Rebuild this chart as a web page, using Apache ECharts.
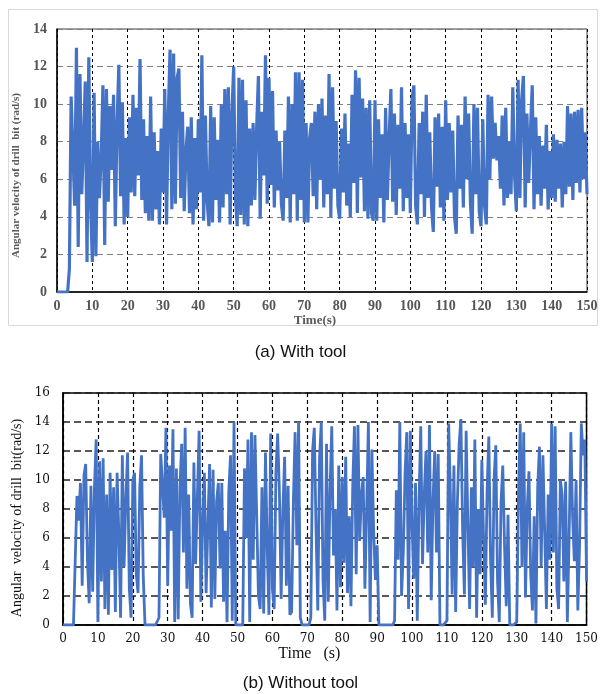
<!DOCTYPE html>
<html><head><meta charset="utf-8">
<script src="https://cdn.jsdelivr.net/npm/echarts@6/dist/echarts.min.js"></script>
<style>html,body{margin:0;padding:0;background:#fff}#c{width:601px;height:694px}</style>
</head><body><div id="c"></div>
<script>
// sample spacing of both records (s)
const timeStep = 0.5;
const xTicks = [0,10,20,30,40,50,60,70,80,90,100,110,120,130,140,150];

// (a) With tool : angular velocity of drill bit (rad/s), t = 0 .. 150 s
const withTool = [
 0,0,0,0,0,0,0,1.2,10.4,10.5,4.6,13.0,2.4,11.6,5.2,8.0,11.2,1.6,12.5,4.8,
 1.6,10.6,1.9,8.0,5.0,7.2,11.0,2.5,10.8,4.8,9.9,6.5,10.5,3.5,9.0,12.1,5.1,10.1,3.6,8.2,
 4.0,9.3,5.3,10.5,5.1,9.8,6.2,12.4,4.9,9.2,4.2,8.3,3.8,10.4,3.8,8.5,4.4,7.5,3.6,8.7,
 5.3,10.8,3.6,9.5,12.9,4.4,12.7,4.7,11.4,11.9,5.0,9.6,4.3,7.5,8.8,4.2,9.3,3.6,8.2,4.4,
 9.2,5.3,12.6,3.8,9.4,4.8,3.5,9.9,3.7,9.3,4.9,8.1,3.7,10.0,4.5,10.8,5.2,10.9,3.6,9.5,
 12.0,5.0,3.5,11.4,4.1,11.3,3.6,10.2,3.5,8.7,4.6,9.0,4.9,8.7,11.5,3.9,9.6,6.2,12.6,4.7,
 11.4,5.7,10.7,4.5,8.6,5.4,8.0,4.7,3.8,8.6,5.0,10.4,3.7,10.0,5.2,11.7,3.8,11.7,4.9,11.3,
 3.7,9.0,3.7,8.2,9.0,5.1,9.6,4.4,10.0,6.0,10.3,4.5,9.4,5.2,11.6,4.0,10.9,5.5,9.1,4.6,
 3.9,8.7,5.3,9.5,4.6,7.9,4.0,10.5,5.8,11.8,4.2,11.4,6.1,10.3,4.3,9.8,3.9,10.2,4.2,3.8,
 10.2,3.8,9.2,5.0,8.4,3.7,9.8,4.9,8.2,10.8,4.8,9.5,4.1,8.9,5.5,10.9,4.3,9.0,5.0,8.4,
 4.2,10.3,11.0,4.6,3.6,9.0,5.2,9.6,4.0,10.5,5.0,8.5,4.5,3.2,9.3,5.6,9.5,4.5,8.8,3.8,
 10.2,4.9,9.0,5.3,8.6,4.0,3.1,9.4,5.5,8.9,4.5,10.4,6.0,9.5,4.8,3.1,10.0,5.2,9.8,4.3,
 3.5,9.2,4.6,3.6,10.5,6.0,10.4,7.1,9.0,7.0,8.3,5.5,9.4,4.6,9.8,5.0,8.0,5.2,10.9,6.2,
 4.3,11.3,5.0,10.2,11.5,4.5,9.5,5.8,8.6,11.0,4.4,9.3,5.2,8.3,4.6,7.8,5.5,8.9,4.4,7.5,
 5.0,8.4,4.8,8.1,5.5,7.9,4.5,8.0,5.2,9.9,5.6,9.5,4.9,9.6,5.8,9.7,5.3,9.8,6.0,8.5,
 5.2
];

// (b) Without tool : angular velocity of drill bit (rad/s), t = 0 .. 150 s
const withoutTool = [
 0,0,0,0,0,0,0,0,8.9,7.2,9.8,2.7,10.3,11.1,4.5,1.5,9.6,2.3,9.4,12.8,
 0.2,11.3,3.0,11.5,1.1,9.0,0.7,10.5,3.8,9.5,0.9,10.5,6.3,0.5,11.7,4.0,8.7,11.9,2.5,0.5,
 10.0,10.5,3.5,2.2,9.5,11.7,3.3,0,0,0,0,0,0,0,0,0.5,11.8,9.7,7.4,13.6,
 2.7,11.0,6.5,13.5,0.2,10.8,0.4,9.5,12.5,5.0,13.6,2.5,9.0,1.5,0.5,11.2,4.2,8.8,13.4,1.6,
 7.0,10.5,2.2,6.8,11.1,1.2,10.7,1.8,8.5,9.8,3.9,9.8,1.6,6.5,0.2,9.2,11.7,0.3,14.0,0,
 0,0,0,0,10.8,6.0,12.8,0.2,13.3,4.5,13.1,7.5,2.0,1.1,9.5,0.8,11.9,5.5,0.7,13.2,
 2.5,1.1,10.5,13.2,9.2,1.8,8.0,11.6,2.7,9.6,0.7,0.9,8.5,13.3,5.5,14.0,0.5,0,0,0,
 0,0,0.5,12.0,13.6,6.5,1.0,11.5,14.0,3.0,0.3,12.5,1.6,9.2,13.7,4.8,8.0,1.0,11.0,2.6,
 10.2,4.3,11.6,2.2,7.5,1.3,9.5,13.7,3.5,13.8,5.8,9.0,10.2,2.5,8.0,14.0,0.2,12.1,6.5,3.1,
 5.5,0,0,0,0,0,0,0,0,0,0.3,9.3,4.5,14.0,2.0,5.0,10.5,13.3,1.1,13.4,
 7.0,3.2,9.8,0.3,8.5,13.7,4.2,9.0,12.0,5.0,13.8,1.7,8.5,12.0,5.0,11.8,0,0,0,0,
 0.3,13.9,9.0,2.1,11.0,0.9,8.5,12.5,14.2,6.5,2.1,13.4,7.0,1.1,9.5,4.0,12.8,0.5,8.0,3.5,
 11.4,6.0,1.4,9.2,13.0,4.5,0.5,10.0,12.4,3.0,0.2,8.5,11.0,5.5,1.3,7.6,0,0,0,0,
 0.2,9.0,13.9,4.0,13.3,1.9,8.0,10.6,3.5,1.0,7.5,0.1,9.5,12.3,4.0,11.7,6.5,1.1,9.0,4.5,
 13.9,5.0,13.7,2.5,1.1,10.0,9.0,3.0,9.9,0.2,6.0,13.3,7.5,4.4,10.0,1.0,5.5,13.9,11.7,12.8,
 3.0
];

const captionA = '(a) With tool';
const captionB = '(b) Without tool';

const toPairs = arr => arr.map((v, i) => [i * timeStep, v]);
const xMin = xTicks[0], xMax = xTicks[xTicks.length - 1], xStep = xTicks[1] - xTicks[0];

const chart = echarts.init(document.getElementById('c'), null, {renderer: 'canvas'});
const topLabel = {color: '#555', fontFamily: 'Liberation Serif', fontWeight: 'bold', fontSize: 14};
const botLabel = {color: '#111', fontFamily: 'DejaVu Serif', fontSize: 12};

chart.setOption({
  animation: false,
  backgroundColor: '#fff',
  graphic: [
    {type: 'rect', shape: {x: 8.5, y: 9.5, width: 589, height: 316}, style: {fill: 'none', stroke: '#d9d9d9', lineWidth: 1}, z: -1},
    {type: 'text', left: 'center', top: 344, style: {text: captionA, font: '17px "Liberation Sans"', fill: '#111'}},
    {type: 'text', left: 'center', top: 675, style: {text: captionB, font: '17px "Liberation Sans"', fill: '#111'}}
  ],
  grid: [
    {left: 57, top: 29, width: 530, height: 263, show: true, borderColor: '#404040', borderWidth: 1},
    {left: 63, top: 393, width: 529, height: 232, show: true, borderColor: '#000', borderWidth: 1.5}
  ],
  xAxis: [
    {gridIndex: 0, type: 'value', min: xMin, max: xMax, interval: xStep,
     axisLine: {show: true, onZero: false, lineStyle: {color: '#000', width: 1.5}},
     axisTick: {show: false},
     axisLabel: Object.assign({margin: 7}, topLabel),
     splitLine: {show: true, lineStyle: {color: '#000', type: [3, 3], width: 1}},
     name: 'Time(s)', nameLocation: 'middle', nameGap: 21,
     nameTextStyle: {color: '#595959', fontFamily: 'Liberation Serif', fontWeight: 'bold', fontSize: 13, padding: [0, 14, 0, 0]}},
    {gridIndex: 1, type: 'value', min: xMin, max: xMax, interval: xStep,
     axisLine: {show: true, onZero: false, lineStyle: {color: '#000', width: 1.5}},
     axisTick: {show: false},
     axisLabel: Object.assign({margin: 8}, botLabel),
     splitLine: {show: true, lineStyle: {color: '#000', type: [4, 3], width: 1.2}},
     name: 'Time   (s)', nameLocation: 'middle', nameGap: 18,
     nameTextStyle: {color: '#111', fontFamily: 'Liberation Serif', fontSize: 16, padding: [0, 31, 0, 0]}}
  ],
  yAxis: [
    {gridIndex: 0, type: 'value', min: 0, max: 14, interval: 2,
     axisLine: {show: true, lineStyle: {color: '#000', width: 1.5}},
     axisTick: {show: false},
     axisLabel: Object.assign({margin: 10}, topLabel),
     splitLine: {show: true, lineStyle: {color: '#808080', type: [6, 4], width: 1}},
     name: 'Angular velocity of drill  bit (rad/s)', nameLocation: 'middle', nameGap: 29,
     nameTextStyle: {color: '#595959', fontFamily: 'Liberation Serif', fontWeight: 'bold', fontSize: 11, padding: [0, 30, 0, 0]}},
    {gridIndex: 1, type: 'value', min: 0, max: 16, interval: 2,
     axisLine: {show: true, lineStyle: {color: '#000', width: 1.5}},
     axisTick: {show: false},
     axisLabel: Object.assign({margin: 13}, botLabel),
     splitLine: {show: true, lineStyle: {color: '#222', type: [7, 4], width: 1.5}},
     name: 'Angular  velocity of drill  bit(rad/s)', nameLocation: 'middle', nameGap: 30,
     nameTextStyle: {color: '#111', fontFamily: 'Liberation Serif', fontSize: 14, padding: [0, 18, 0, 0]}}
  ],
  series: [
    {type: 'line', xAxisIndex: 0, yAxisIndex: 0, data: toPairs(withTool), showSymbol: false,
     lineStyle: {color: '#4472C4', width: 3.2}, itemStyle: {color: '#4472C4'}},
    {type: 'line', xAxisIndex: 1, yAxisIndex: 1, data: toPairs(withoutTool), showSymbol: false,
     lineStyle: {color: '#4472C4', width: 2.8}, itemStyle: {color: '#4472C4'}}
  ]
});
</script>
</body></html>
